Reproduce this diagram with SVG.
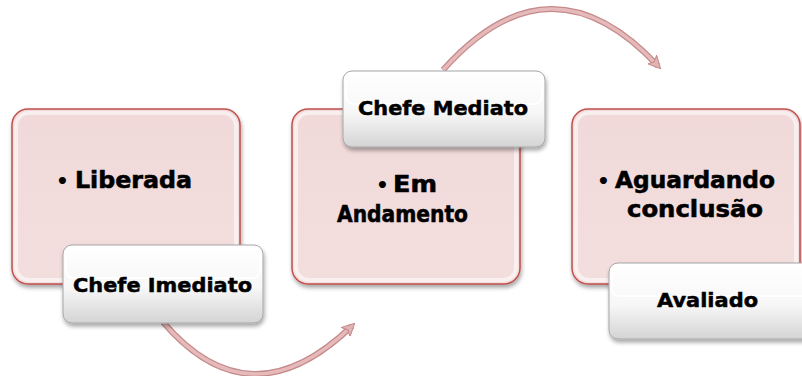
<svg xmlns="http://www.w3.org/2000/svg" width="802" height="376" viewBox="0 0 802 376">
<defs>
<linearGradient id="wg" x1="0" y1="0" x2="0" y2="1">
<stop offset="0" stop-color="#ffffff"/>
<stop offset="0.55" stop-color="#f7f7f7"/>
<stop offset="1" stop-color="#d4d4d4"/>
</linearGradient>
<linearGradient id="pg" x1="0" y1="0" x2="0" y2="1">
<stop offset="0" stop-color="#f1d9d9"/>
<stop offset="1" stop-color="#f3dede"/>
</linearGradient>
<filter id="sh" x="-10%" y="-10%" width="125%" height="130%">
<feGaussianBlur in="SourceAlpha" stdDeviation="2"/>
<feOffset dx="1" dy="3" result="b"/>
<feComponentTransfer><feFuncA type="linear" slope="0.35"/></feComponentTransfer>
<feMerge><feMergeNode/><feMergeNode in="SourceGraphic"/></feMerge>
</filter>
<marker id="ah" viewBox="0 0 10 10" refX="7" refY="5" markerWidth="3.6" markerHeight="3.6" orient="auto" markerUnits="strokeWidth">
<path d="M0,0 L10,5 L0,10 L2.5,5 Z" fill="#e2b3b3" stroke="#c48a8a" stroke-width="0.8"/>
</marker>
</defs>
<style>
.pink{fill:url(#pg);stroke:#c0504d;stroke-width:1.5}
.glow{fill:none;stroke:#ffffff;stroke-opacity:0.55;stroke-width:4}
.white{fill:url(#wg);stroke:#a6a6a6;stroke-width:1}
.hl{fill:none;stroke:#ffffff;stroke-width:2;stroke-opacity:0.9}
.big{font-family:"DejaVu Sans",sans-serif;font-weight:bold;font-size:23.5px;fill:#000;stroke:#000;stroke-width:0.6}
.lab{font-family:"DejaVu Sans",sans-serif;font-weight:bold;font-size:20px;fill:#000;stroke:#000;stroke-width:0.5}
.bul{font-family:"DejaVu Sans",sans-serif;font-weight:bold;font-size:20px;fill:#000}
.aout{fill:none;stroke:#c48a8a;stroke-width:6}
.ain{fill:none;stroke:#e6baba;stroke-width:3.5}
</style>

<g id="connectors">
<path class="aout" d="M163,322 Q250,424 352,326"/>
<path class="ain" d="M163,322 Q250,424 352,326" marker-end="url(#ah)"/>
<path class="aout" d="M443,70 Q550,-50 658,66"/>
<path class="ain" d="M443,70 Q550,-50 658,66" marker-end="url(#ah)"/>
</g>

<g id="node-liberada">
<rect class="pink" x="12" y="109" width="228" height="175" rx="16" filter="url(#sh)"/>
<rect class="glow" x="16" y="113" width="220" height="167" rx="13"/>
<text class="bul" x="56" y="188">•</text>
<text class="big" x="75" y="188" textLength="117" lengthAdjust="spacingAndGlyphs">Liberada</text>
</g>

<g id="node-em-andamento">
<rect class="pink" x="292" y="109" width="228" height="175" rx="16" filter="url(#sh)"/>
<rect class="glow" x="296" y="113" width="220" height="167" rx="13"/>
<text class="bul" x="376" y="192">•</text>
<text class="big" x="393" y="192" textLength="44" lengthAdjust="spacingAndGlyphs">Em</text>
<text class="big" x="337" y="222" textLength="131" lengthAdjust="spacingAndGlyphs">Andamento</text>
</g>

<g id="node-aguardando">
<rect class="pink" x="572" y="109" width="228" height="175" rx="16" filter="url(#sh)"/>
<rect class="glow" x="576" y="113" width="220" height="167" rx="13"/>
<text class="bul" x="597" y="188">•</text>
<text class="big" x="615" y="188" textLength="160" lengthAdjust="spacingAndGlyphs">Aguardando</text>
<text class="big" x="627" y="217" textLength="136" lengthAdjust="spacingAndGlyphs">conclusão</text>
</g>

<g id="node-chefe-imediato">
<rect class="white" x="63" y="245" width="200" height="78" rx="9" filter="url(#sh)"/>
<rect class="hl" x="66" y="248" width="194" height="30" rx="7"/>
<text class="lab" x="73" y="292" textLength="179" lengthAdjust="spacingAndGlyphs">Chefe Imediato</text>
</g>

<g id="node-chefe-mediato">
<rect class="white" x="343" y="71" width="202" height="76" rx="9" filter="url(#sh)"/>
<rect class="hl" x="346" y="74" width="196" height="30" rx="7"/>
<text class="lab" x="358" y="115" textLength="170" lengthAdjust="spacingAndGlyphs">Chefe Mediato</text>
</g>

<g id="node-avaliado">
<rect class="white" x="609" y="263" width="204" height="76" rx="9" filter="url(#sh)"/>
<rect class="hl" x="612" y="266" width="198" height="30" rx="7"/>
<text class="lab" x="657" y="307" textLength="101" lengthAdjust="spacingAndGlyphs">Avaliado</text>
</g>
</svg>
